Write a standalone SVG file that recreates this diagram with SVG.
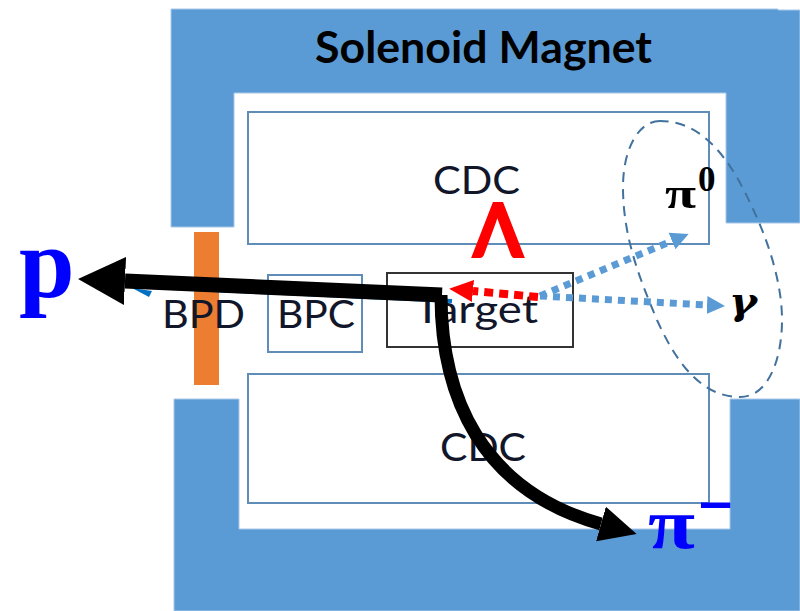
<svg xmlns="http://www.w3.org/2000/svg" width="800" height="611" viewBox="0 0 800 611">
  <style>
    .magnet { fill: #5b9bd5; stroke: #a8c8e8; stroke-width: 1; }
    .box { fill: #ffffff; stroke: #5f8db8; stroke-width: 2; }
    .det { font-family: "Lato", "Liberation Sans", sans-serif; font-size: 39px; fill: #12162a; }
    .ptl { font-family: "Liberation Serif", serif; font-weight: bold; }
    .dot { fill: none; stroke: #5b9bd5; stroke-width: 7; stroke-dasharray: 7 6; }
    .thick { fill: none; stroke: #000000; }
  </style>
  <defs>
    <marker id="headP" markerUnits="userSpaceOnUse" markerWidth="50" markerHeight="50" refX="0" refY="25" orient="auto">
      <path d="M0,1 L47,25 L0,49 Z" fill="#000000"/>
    </marker>
    <marker id="headPi" markerUnits="userSpaceOnUse" markerWidth="40" markerHeight="40" refX="0" refY="20" orient="auto">
      <path d="M0,2 L37,20 L0,38 Z" fill="#000000"/>
    </marker>
    <marker id="headBlue" markerUnits="userSpaceOnUse" markerWidth="22" markerHeight="22" refX="0" refY="11" orient="auto">
      <path d="M0,2 L18,11 L0,20 Z" fill="#5b9bd5"/>
    </marker>
    <marker id="headRed" markerUnits="userSpaceOnUse" markerWidth="28" markerHeight="28" refX="0" refY="14" orient="auto">
      <path d="M0,3 L24,14 L0,25 Z" fill="#ff0000"/>
    </marker>
  </defs>

  <rect width="800" height="611" fill="#ffffff"/>

  <g id="magnet">
    <path class="magnet" d="M171,9 H778 V10 H800 V223 H726 V93 H234 V227 H171 Z"/>
    <path class="magnet" d="M174,399 H239 V529 H730 V399 H800 V611 H174 Z"/>
    <text x="315" y="63" font-family="Lato, 'Liberation Sans', sans-serif" font-weight="bold" font-size="44" fill="#000000" textLength="337" lengthAdjust="spacingAndGlyphs">Solenoid Magnet</text>
  </g>

  <g id="bpd">
    <rect x="194" y="232" width="25" height="153" fill="#ed7d31"/>
    <text class="det" x="162" y="328" textLength="83" lengthAdjust="spacingAndGlyphs">BPD</text>
  </g>
  <g id="bpc">
    <rect class="box" x="268" y="275" width="94" height="77" fill-opacity="0"/>
    <text class="det" x="277" y="328" textLength="78" lengthAdjust="spacingAndGlyphs">BPC</text>
  </g>
  <g id="target">
    <rect x="387" y="273" width="186" height="74" fill="#ffffff" stroke="#333333" stroke-width="2"/>
    <text class="det" x="414" y="323" textLength="124" lengthAdjust="spacingAndGlyphs">Target</text>
  </g>
  <g id="cdc-top">
    <rect class="box" x="248" y="112" width="461" height="132"/>
    <text class="det" x="433" y="194" textLength="87" lengthAdjust="spacingAndGlyphs">CDC</text>
  </g>
  <g id="cdc-bottom">
    <rect class="box" x="248" y="374" width="461" height="129"/>
    <text class="det" x="440" y="461" textLength="86" lengthAdjust="spacingAndGlyphs">CDC</text>
  </g>

  <g id="decay-region">
    <path d="M660,121 C638,121 623,150 623,187 C623,235 638,275 657,320 C675,360 700,397 740,397 C768,397 782,360 782,320 C782,285 770,248 758,220 C742,185 715,121 660,121 Z" fill="none" stroke="#41719c" stroke-width="2" stroke-dasharray="10 7"/>
  </g>

  <g id="connectors">
    <path d="M452,301 L150,287" fill="none" stroke="#0070c0" stroke-width="4"/>
    <path d="M132,288 L152,291 L149,297 Z" fill="#0070c0"/>
    <path class="dot" d="M540,296 L672,241" marker-end="url(#headBlue)"/>
    <path class="dot" d="M540,296 L707,305" marker-end="url(#headBlue)"/>
    <path d="M538,297 L473,291" fill="none" stroke="#ff0000" stroke-width="8" stroke-dasharray="9 6" marker-end="url(#headRed)"/>
    <path class="thick" stroke-width="15" d="M442,295 L125,281" marker-end="url(#headP)"/>
    <path class="thick" stroke-width="13" d="M441,295 C441,395 480,490 601,524" marker-end="url(#headPi)"/>
  </g>

  <g id="label-p"><text class="ptl" x="19" y="297" font-size="100" fill="#0000ff">p</text></g>
  <g id="label-lambda"><text x="473" y="257" font-family="Lato, 'Liberation Sans', sans-serif" font-weight="bold" font-size="75" fill="#ff0000" stroke="#ff0000" stroke-width="2" textLength="50" lengthAdjust="spacingAndGlyphs">Λ</text></g>
  <g id="label-pi0">
    <text class="ptl" x="665" y="208" font-size="44" fill="#000000" textLength="31" lengthAdjust="spacingAndGlyphs">π</text>
    <text class="ptl" x="698" y="191" font-size="35" fill="#000000">0</text>
  </g>
  <g id="label-gamma"><text x="729" y="314" font-family="'DejaVu Serif', serif" font-weight="bold" font-style="italic" font-size="38" fill="#000000" textLength="28" lengthAdjust="spacingAndGlyphs">γ</text></g>
  <g id="label-pi-minus">
    <text class="ptl" x="648" y="548" font-size="72" fill="#0000ff" textLength="47" lengthAdjust="spacingAndGlyphs">π</text>
    <text class="ptl" x="699" y="521" font-size="48" fill="#0000ff" stroke="#0000ff" stroke-width="2" textLength="33" lengthAdjust="spacingAndGlyphs">−</text>
  </g>
</svg>
